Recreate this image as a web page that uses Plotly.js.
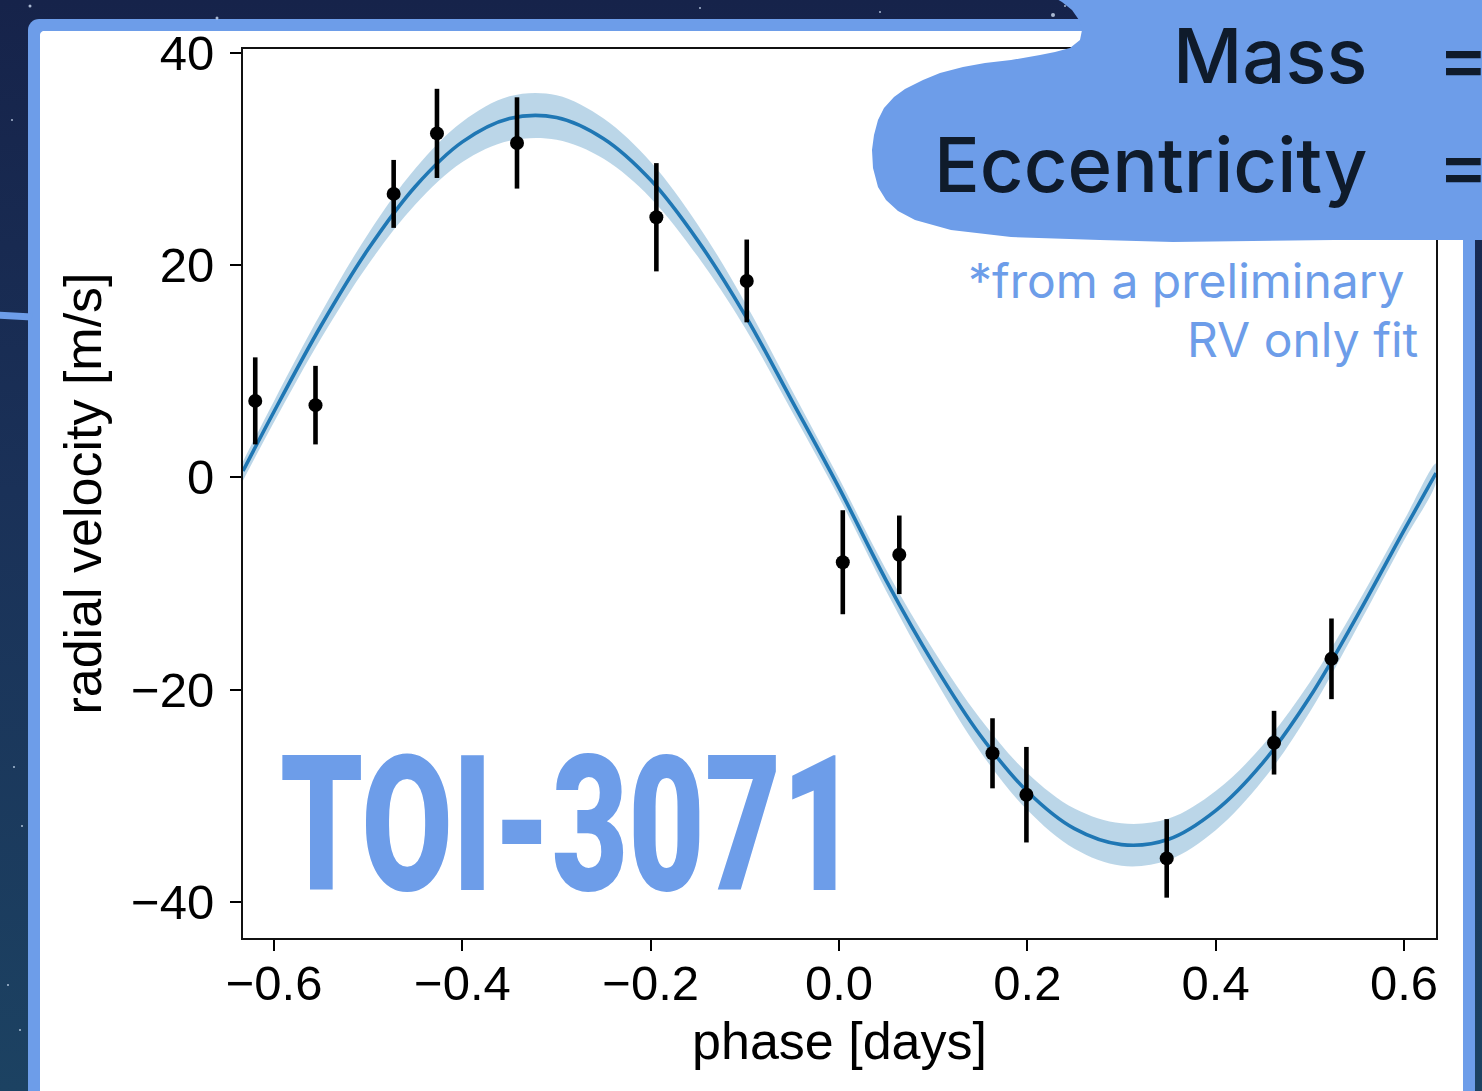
<!DOCTYPE html>
<html><head><meta charset="utf-8">
<script src="https://cdn.plot.ly/plotly-3.0.1.min.js"></script>
<style>
html,body{margin:0;padding:0;width:1482px;height:1091px;overflow:hidden;
background:linear-gradient(180deg,#16234a 0%,#1a3158 45%,#1c4262 100%);}
#chart{width:1482px;height:1091px;}
</style></head><body><div id="chart"></div>
<script>
// ---- observed RVs (phase-folded) ----
const phaseObs = [-0.620, -0.556, -0.473, -0.427, -0.342, -0.194, -0.098, 0.004, 0.064, 0.163, 0.199, 0.348, 0.462, 0.523];
const rvObs    = [7.2, 6.8, 26.7, 32.4, 31.5, 24.5, 18.5, -8.0, -7.3, -26.0, -29.9, -35.9, -25.0, -17.1];
const rvErr    = [4.1, 3.7, 3.2, 4.2, 4.3, 5.1, 3.9, 4.9, 3.7, 3.3, 4.5, 3.7, 3.0, 3.8];

// ---- model curve ----
const modelPhase = [-0.633, -0.6, -0.55, -0.5, -0.45, -0.4, -0.35, -0.3, -0.25, -0.2, -0.15, -0.1, -0.05, 0, 0.05, 0.1, 0.15, 0.2, 0.25, 0.3, 0.35, 0.4, 0.45, 0.5, 0.55, 0.6, 0.634];
const modelRv    = [0.6, 6.2, 14.3, 21.5, 27.4, 31.6, 33.8, 33.9, 31.9, 28.0, 22.3, 15.3, 7.2, -1.0, -9.7, -17.5, -24.3, -29.6, -33.1, -34.6, -34.1, -31.4, -26.9, -20.7, -13.1, -5.0, 0.4];
const bandHalf   = [0.9, 1.0, 1.2, 1.45, 1.7, 1.9, 2.1, 2.1, 1.9, 1.7, 1.5, 1.2, 1.0, 0.9, 1.0, 1.25, 1.55, 1.75, 1.9, 2.0, 1.95, 1.85, 1.65, 1.4, 1.1, 0.95, 0.9];

// ---- ticks ----
const xTickVals = [-0.6, -0.4, -0.2, 0.0, 0.2, 0.4, 0.6];
const xTickText = ['\u22120.6', '\u22120.4', '\u22120.2', '0.0', '0.2', '0.4', '0.6'];
const yTickVals = [-40, -20, 0, 20, 40];
const yTickText = ['\u221240', '\u221220', '0', '20', '40'];

// ---- texts ----
const titleText = 'TOI-3071';
const paramLabels = ['Mass', 'Eccentricity'];
const noteLines = ['*from a preliminary', 'RV only fit'];

const upper = modelRv.map((v, i) => v + bandHalf[i]);
const lower = modelRv.map((v, i) => v - bandHalf[i]);

// pixel -> paper helpers for decoration
const L = 243, R = 1436, T = 49, B = 938;
const px = x => (x - L) / (R - L);
const py = y => (B - y) / (B - T);
function poly(points) {
  return points.map((p, i) => (i ? 'L' : 'M') + px(p[0]).toFixed(5) + ',' + py(p[1]).toFixed(5)).join(' ') + ' Z';
}
function roundRect(x0, y0, x1, y1, r) {
  const pts = [];
  for (let k = 0; k <= 8; k++) {
    const a = Math.PI + (Math.PI / 2) * (k / 8);
    pts.push([x0 + r + r * Math.cos(a), y0 + r + r * Math.sin(a)]);
  }
  for (let k = 0; k <= 8; k++) {
    const a = -Math.PI / 2 + (Math.PI / 2) * (k / 8);
    pts.push([x1 - r + r * Math.cos(a), y0 + r + r * Math.sin(a)]);
  }
  pts.push([x1, y1]); pts.push([x0, y1]);
  return poly(pts);
}
const frameBlue = '#6d9de9';
const blob = [[1048,-6],[1062,2],[1072,10],[1079,20],[1082,30],[1080,40],[1070,48],[1055,52],[1040,55],[1011,60],[985,63],[963,67],[940,73],[923,80],[905,89],[894,97],[884,108],[878,120],[874,135],[872,150],[873,168],[878,187],[886,200],[898,211],[915,220],[951,230],[1011,237],[1100,240],[1173,242],[1334,240],[1490,240],[1490,-6]];
const stars = [[30,6,1.5],[217,18,1.5],[1053,15,2],[1065,6,1],[14,767,1],[22,826,1],[8,985,1],[20,1030,1],[12,120,1],[700,8,1],[880,12,1]];

const shapes = [
  {type:'path', xref:'paper', yref:'paper', layer:'below', path: roundRect(28, 19, 1475, 1110, 11), fillcolor: frameBlue, line:{width:0}},
  {type:'path', xref:'paper', yref:'paper', layer:'below', path: roundRect(40, 31, 1463, 1110, 4), fillcolor:'#ffffff', line:{width:0}},
  {type:'line', xref:'paper', yref:'paper', layer:'below',
   x0: px(-4), y0: py(315), x1: px(32), y1: py(317), line:{color: frameBlue, width: 7}},
  {type:'path', xref:'paper', yref:'paper', layer:'above', path: poly(blob), fillcolor: frameBlue, line:{width:0}}
];
stars.forEach(s => shapes.push({type:'circle', xref:'paper', yref:'paper', layer:'below',
  x0:px(s[0]-s[2]), x1:px(s[0]+s[2]), y0:py(s[1]+s[2]), y1:py(s[1]-s[2]),
  fillcolor:'rgba(220,235,255,0.75)', line:{width:0}}));

const traces = [
  {x: modelPhase.concat(modelPhase.slice().reverse()), y: upper.concat(lower.slice().reverse()),
   type:'scatter', mode:'lines', fill:'toself', fillcolor:'rgba(31,119,180,0.3)', line:{width:0, shape:'spline'}, hoverinfo:'skip'},
  {x: modelPhase, y: modelRv, type:'scatter', mode:'lines', line:{color:'#1f77b4', width:3.6, shape:'spline'}},
  {x: phaseObs, y: rvObs, type:'scatter', mode:'markers',
   marker:{color:'#000', size:14},
   error_y:{type:'data', array: rvErr, visible:true, color:'#000', thickness:4.6, width:0}}
];

const tickFont = {family:'Liberation Sans, Arial, sans-serif', size:49, color:'#000'};
const titleFont = {family:'Liberation Sans, Arial, sans-serif', size:52, color:'#000'};
const layout = {
  width:1482, height:1091,
  margin:{l:L, r:1482-R, t:T, b:1091-B, pad:0},
  paper_bgcolor:'rgba(0,0,0,0)', plot_bgcolor:'rgba(0,0,0,0)',
  showlegend:false,
  xaxis:{range:[-0.633, 0.634], tickvals:xTickVals, ticktext:xTickText, ticks:'outside', ticklen:11, tickwidth:2, tickcolor:'#000',
    showline:true, linewidth:2, linecolor:'#111', mirror:true, showgrid:false, zeroline:false, tickfont:tickFont,
    ticklabelstandoff:-10,
    title:{text:'phase [days]', font:titleFont, standoff:14}},
  yaxis:{range:[-43.4, 40.35], tickvals:yTickVals, ticktext:yTickText, ticks:'outside', ticklen:11, tickwidth:2, tickcolor:'#000',
    showline:true, linewidth:2, linecolor:'#111', mirror:true, showgrid:false, zeroline:false, tickfont:tickFont,
    ticklabelstandoff:6,
    title:{text:'radial velocity [m/s]', font:titleFont, standoff:13}},
  shapes: shapes,
  annotations:[
    {text: paramLabels[0], xref:'paper', yref:'paper', x:px(1369), y:py(55), xanchor:'right', yanchor:'middle', showarrow:false,
     font:{family:'Inter, Noto Sans, sans-serif', size:76, weight:500, color:'#0f1b2b'}},
    {text: paramLabels[1], xref:'paper', yref:'paper', x:px(1369), y:py(164), xanchor:'right', yanchor:'middle', showarrow:false,
     font:{family:'Inter, Noto Sans, sans-serif', size:76, weight:500, color:'#0f1b2b'}},
    {text:'=', xref:'paper', yref:'paper', x:px(1436), y:py(57), xanchor:'left', yanchor:'middle', showarrow:false,
     font:{family:'Inter, Noto Sans, sans-serif', size:76, weight:500, color:'#0f1b2b'}},
    {text:'=', xref:'paper', yref:'paper', x:px(1436), y:py(164), xanchor:'left', yanchor:'middle', showarrow:false,
     font:{family:'Inter, Noto Sans, sans-serif', size:76, weight:500, color:'#0f1b2b'}},
    {text: noteLines[0], xref:'paper', yref:'paper', x:px(1407), y:py(281), xanchor:'right', yanchor:'middle', showarrow:false,
     font:{family:'Inter, Noto Sans, sans-serif', size:48, weight:400, color: frameBlue}},
    {text: noteLines[1], xref:'paper', yref:'paper', x:px(1420), y:py(340), xanchor:'right', yanchor:'middle', showarrow:false,
     font:{family:'Inter, Noto Sans, sans-serif', size:48, weight:400, color: frameBlue}},
    {text: titleText, xref:'paper', yref:'paper', x:px(569), y:py(825), xanchor:'center', yanchor:'middle', showarrow:false,
     font:{family:'Roboto, sans-serif', size:190, weight:900, color: frameBlue}}
  ]
};

Plotly.newPlot('chart', traces, layout, {displayModeBar:false, staticPlot:true}).then(() => {
  document.querySelectorAll('.annotation-text').forEach(t => {
    if (t.textContent === titleText) {
      t.setAttribute('textLength', '578');
      t.setAttribute('lengthAdjust', 'spacingAndGlyphs');
    }
  });
});
</script>
</body></html>
